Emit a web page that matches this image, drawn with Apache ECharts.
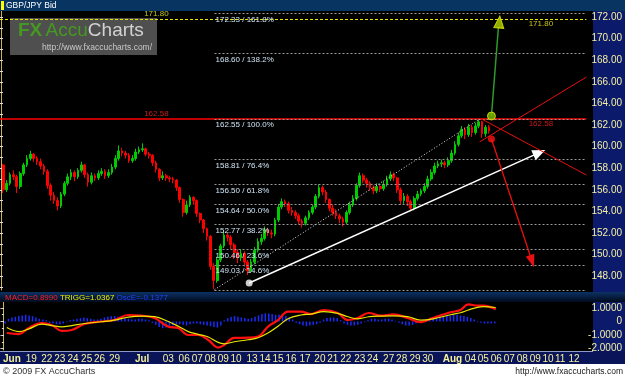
<!DOCTYPE html>
<html>
<head>
<meta charset="utf-8">
<script src="https://cdn.jsdelivr.net/npm/echarts@6/dist/echarts.min.js"></script>
<style>
html, body { margin: 0; padding: 0; background: #fff; }
#chart { width: 625px; height: 379px; }
</style>
</head>
<body>
<div id="chart"></div>
<script>
// GBP/JPY bid, 4 bars per trading day, 17 Jun - 6 Aug 2009
const barsPerDay = 4;
const firstOpen = 158.3;
const closes = [
    156.0, 156.6, 157.4, 157.2,  156.3, 157.5, 158.3, 158.9,  159.3, 158.9, 158.6, 158.2,
    157.7, 156.4, 155.5, 155.0,  154.5, 155.6, 156.6, 157.2,  157.6, 157.2, 157.8, 158.3,
    157.4, 156.7, 157.3, 157.1,  157.5, 157.7, 157.3, 157.6,  158.1, 158.9, 159.6, 159.4,
    159.2, 158.7, 158.9, 159.5,  159.7, 159.8, 159.3, 159.2,  158.5, 157.9, 157.1, 157.3,
    157.1, 157.0, 156.9, 156.2,  155.1, 153.9, 154.6, 155.3,  155.0, 153.8, 153.2, 152.4,
    151.7, 148.9, 147.6, 149.5,  150.8, 151.8, 151.6, 150.9,  150.2, 149.7, 150.1, 149.3,
    148.5, 149.3, 150.4, 151.2,  151.5, 152.3, 152.0, 151.9,  153.2, 154.4, 154.9, 154.7,
    154.1, 153.9, 153.6, 153.1,  152.9, 153.4, 153.9, 154.4,  155.4, 156.2, 155.8, 155.1,
    154.3, 153.9, 153.6, 153.3,  153.0, 153.9, 154.6, 155.2,  156.4, 157.3, 156.9, 156.6,
    156.2, 155.9, 156.3, 156.1,  156.5, 157.0, 157.4, 157.1,  156.0, 155.0, 155.4, 154.9,
    154.3, 155.2, 155.6, 155.9,  156.3, 157.0, 157.6, 158.2,  158.4, 158.5, 158.3, 158.7,
    159.4, 160.2, 161.0, 161.6,  161.1, 161.8, 161.3, 161.9,  162.3, 161.2, 161.8, 161.45
];
const highs = [
    158.4, 156.9, 157.6, 157.8,  157.4, 157.7, 158.5, 159.2,  159.6, 159.4, 159.1, 158.9,
    158.4, 157.9, 156.6, 155.8,  155.3, 155.8, 156.8, 157.5,  157.9, 157.8, 158.0, 158.6,
    158.4, 157.6, 157.6, 157.5,  157.8, 158.0, 157.9, 157.9,  158.4, 159.2, 160.1, 159.9,
    159.6, 159.4, 159.2, 159.8,  160.0, 160.3, 159.9, 159.5,  159.3, 158.7, 158.0, 157.7,
    157.5, 157.3, 157.2, 157.0,  156.3, 155.2, 155.0, 155.5,  155.4, 155.1, 153.9, 153.3,
    152.5, 151.8, 149.2, 149.8,  151.0, 152.2, 152.0, 151.8,  151.1, 150.5, 150.5, 150.3,
    149.5, 149.6, 150.7, 151.5,  151.9, 152.6, 152.5, 152.3,  153.4, 154.7, 155.2, 155.1,
    154.9, 154.4, 154.1, 153.8,  153.3, 153.6, 154.1, 154.6,  155.6, 156.5, 156.4, 156.0,
    155.2, 154.6, 154.2, 153.8,  153.5, 154.1, 154.9, 155.5,  156.6, 157.6, 157.5, 157.1,
    156.8, 156.4, 156.6, 156.5,  156.8, 157.3, 157.7, 157.6,  157.2, 156.2, 155.7, 155.6,
    155.1, 155.4, 155.9, 156.1,  156.6, 157.3, 157.9, 158.5,  158.7, 158.8, 158.7, 159.0,
    159.7, 160.5, 161.3, 161.9,  161.8, 162.1, 162.0, 162.2,  162.55, 162.4, 162.0, 162.0
];
const lows = [
    155.7, 155.8, 156.4, 156.9,  155.7, 156.1, 157.3, 158.1,  158.7, 158.6, 158.3, 157.9,
    157.4, 156.1, 155.0, 154.7,  154.1, 154.3, 155.4, 156.4,  156.9, 156.8, 157.0, 157.6,
    157.1, 156.3, 156.5, 156.8,  156.9, 157.3, 157.0, 157.1,  157.4, 157.9, 158.7, 159.1,
    158.9, 158.5, 158.5, 158.7,  159.3, 159.5, 159.1, 158.9,  158.2, 157.6, 156.8, 156.9,
    156.8, 156.7, 156.6, 155.9,  154.8, 153.5, 153.7, 154.4,  154.6, 153.5, 152.9, 152.0,
    151.3, 148.6, 146.8, 147.4,  149.3, 150.6, 151.2, 150.5,  149.6, 149.2, 149.4, 148.9,
    148.1, 148.3, 149.1, 150.2,  150.9, 151.3, 151.7, 151.5,  151.7, 153.0, 154.2, 154.4,
    153.8, 153.6, 153.3, 152.8,  152.5, 152.7, 153.2, 153.7,  154.2, 155.2, 155.5, 154.8,
    154.0, 153.6, 153.3, 152.9,  152.6, 152.8, 153.7, 154.4,  155.0, 156.2, 156.6, 156.2,
    155.9, 155.6, 155.7, 155.8,  155.9, 156.3, 156.8, 156.8,  155.7, 154.6, 154.7, 154.5,
    154.0, 154.1, 155.0, 155.4,  155.7, 156.1, 156.8, 157.4,  158.0, 158.1, 158.0, 158.1,
    158.5, 159.2, 160.0, 160.8,  160.7, 160.9, 160.9, 161.1,  161.7, 160.8, 160.9, 161.2
];
const oscE = [
    -0.15, 0.2, 0.3, 0.35, 0.4, 0.45, 0.5, 0.45, 0.4, 0.3,
    0.2, 0.15, 0.1, -0.1, -0.15, -0.2, -0.2, -0.15, -0.05,
    0.1, 0.15, 0.2, 0.25, 0.3, 0.25, 0.2, 0.15, 0.15, 0.2,
    0.3, 0.35, 0.4, 0.4, 0.35,
    0.3, 0.25, 0.2, 0.15, 0.15, 0.2, 0.2, 0.15, 0.1,
    -0.1, -0.25, -0.4, -0.5, -0.45, -0.4, -0.3,
    -0.2, -0.2, -0.25, -0.3,
    -0.2, -0.15, -0.15, -0.2, -0.25, -0.3, -0.35, -0.4,
    -0.45, -0.3,
    0.1, 0.25, 0.35, 0.4, 0.35, 0.3, 0.25, 0.2, 0.25,
    0.35, 0.45, 0.55, 0.6, 0.6, 0.55, 0.5, 0.5, 0.45, 0.4, 0.3, 0.15,
    -0.1, -0.2, -0.3, -0.35, -0.3, -0.25, -0.2, -0.1,
    0.15, 0.25, 0.3, 0.3, 0.25, 0.1,
    -0.15, -0.25, -0.3, -0.3, -0.25, -0.15, -0.05,
    0.1, 0.2, 0.2, 0.15, 0.15, 0.2, 0.2, 0.15, 0.05,
    -0.1, -0.2, -0.3, -0.3, -0.25, -0.15, -0.05,
    0.1, 0.2, 0.25, 0.3, 0.35, 0.4, 0.4, 0.45, 0.45, 0.5, 0.5, 0.45, 0.4, 0.35, 0.25, 0.15,
    -0.05, -0.1, -0.15, -0.15, -0.15, -0.14
];

// MACD / trigger, read at these day positions
const macdDays = [0.25, 1.13, 1.86, 2.8, 3.53, 4.26, 4.99, 5.93, 7.17, 8.11, 9.13, 10.08, 11.03, 12.04, 12.77,
    13.5, 14.23, 14.96, 15.68, 16.12, 16.85, 17.87, 18.6, 19.32, 20.05, 20.78, 21.72, 22.45, 23.4, 24.42,
    25.15, 25.87, 26.67, 27.55, 28.49, 29.51, 30.46, 31.4, 32.64, 33.37, 33.95, 34.61, 35.04, 35.95];
const macdVals = [-0.85, -0.93, -0.48, -0.11, -0.26, -0.7, -0.63, -0.19, 0, 0.11, 0.48, 0.43, 0.26, -0.38, -0.48,
    -1.0, -1.0, -1.37, -1.93, -1.74, -1.22, -1.2, -1.12, -0.38, 0.11, 0.73, 0.73, 0.55, 0.85, 0.63,
    0.11, 0.26, 0.63, 0.43, 0.53, 0.26, -0.04, 0.28, 0.68, 0.85, 1.27, 1.17, 1.17, 0.899];
const triggVals = [-0.45, -0.75, -0.55, -0.2, -0.3, -0.4, -0.3, -0.15, -0.02, 0.1, 0.33, 0.4, 0.36, 0.0, -0.35,
    -0.75, -0.95, -1.15, -1.55, -1.65, -1.5, -1.35, -1.2, -0.85, -0.35, 0.2, 0.48, 0.55, 0.73, 0.6,
    0.35, 0.2, 0.35, 0.4, 0.42, 0.36, 0.1, 0.2, 0.5, 0.65, 0.85, 1.05, 1.1, 1.0367];

// date axis
const dateTicks = [0.62, 2.04, 3.17, 4.11, 5.09, 6.08, 7.02, 8.11, 10.13, 12.04, 13.2, 14.16, 15.1, 16.05, 16.99,
    18.16, 19.1, 20.05, 21.0, 22.02, 23.11, 24.05, 25.0, 26.02, 26.96, 28.13, 29.08, 30.05, 30.98, 32.79,
    34.1, 35.04, 35.99, 36.94, 37.88, 38.83, 39.77, 40.65, 41.67];
const dateTexts = ['Jun', '19', '22', '23', '24', '25', '26', '29', 'Jul', '03', '06', '07', '08', '09', '10',
    '13', '14', '15', '16', '17', '20', '21', '22', '23', '24', '27', '28', '29', '30', 'Aug',
    '04', '05', '06', '07', '08', '09', '10', '11', '12'];
const priceTicks = [148, 150, 152, 154, 156, 158, 160, 162, 164, 166, 168, 170, 172];
const macdTicks = [1, 0, -1, -2];

// fibonacci projection from the 8 Jul low
const fibPrices = [172.33, 168.60, 162.55, 158.81, 156.50, 154.64, 152.77, 150.46, 149.03, 146.73];
const fibPcts = ['161.8%', '138.2%', '100.0%', '76.4%', '61.8%', '50.0%', '38.2%', '23.6%', '14.6%', '0.0%'];
const fibStartDay = 15.68;

const keyLevels = [162.58, 171.80];
const keyLabelDays = [11.4, 39.7];
const lastPrice = 161.45;

// trend lines: [startDay, startPrice, endDay, endPrice]
const channelTop = [15.68, 146.75, 35.19, 162.55];
const channelLow = [18.23, 147.37, 39.59, 159.44];
const bullPath = [36.06, 162.83, 36.57, 170.98];
const bearPath = [36.06, 160.70, 39.05, 149.38];
const fanUp = [35.19, 160.43, 43.05, 166.44];
const fanDown = [35.33, 162.56, 43.05, 157.37];
const pivotWhite = [18.23, 147.37];
const pivotGreen = [36.06, 162.83];
const pivotRed = [36.06, 160.70];
const bullHead = [36.64, 171.54];

const X_MIN = -0.109, X_MAX = 43.05;
const FONT = '"Liberation Sans", Arial, sans-serif';
const NARROW = '"Liberation Sans Narrow", "Liberation Sans", Arial, sans-serif';

function init() {
    const chart = echarts.init(document.getElementById('chart'), null, { renderer: 'canvas' });

    const candleData = closes.map((c, i) => {
        const open = i === 0 ? firstOpen : closes[i - 1];
        return [(i + 0.5) / barsPerDay, open, c, lows[i], highs[i]];
    });
    const oscData = oscE.map((v, i) => [(i + 0.5) / barsPerDay, v]);
    const macdData = macdDays.map((d, i) => [d, macdVals[i]]);
    const triggData = macdDays.map((d, i) => [d, triggVals[i]]);

    function seg(p, style, endSymbol, endSize) {
        return [
            { coord: [p[0], p[1]], symbol: 'none', lineStyle: style },
            { coord: [p[2], p[3]], symbol: endSymbol || 'none', symbolSize: endSize || 1, lineStyle: style }
        ];
    }

    const fibLines = fibPrices.map((p, i) => [
        {
            coord: [fibStartDay, p],
            symbol: 'none',
            lineStyle: { color: '#9a9a9a', type: [2, 2], width: 1 },
            label: {
                show: i < fibPrices.length - 1,
                position: 'insideStartBottom',
                formatter: p.toFixed(2) + ' / ' + fibPcts[i],
                color: '#cfe4f4',
                fontSize: 8,
                fontFamily: FONT,
                distance: [1, 2]
            }
        },
        { coord: [X_MAX, p], symbol: 'none' }
    ]);

    const red = { color: '#e81010', width: 1, type: 'solid' };
    const markLines = [
        { yAxis: keyLevels[0], symbol: 'none', lineStyle: { color: '#ff0000', width: 1.5, type: 'solid' } },
        { yAxis: keyLevels[1], symbol: 'none', lineStyle: { color: '#e8e800', width: 1, type: [3, 2] } },
        ...fibLines,
        seg(channelTop, { color: '#e6e6e6', width: 1, type: [1, 2] }),
        seg(channelLow, { color: '#ffffff', width: 1.5, type: 'solid' }, 'triangle', [11, 13]),
        seg(bullPath, { color: '#2f9a2a', width: 1.5, type: 'solid' }),
        seg(bearPath, { color: '#e81010', width: 1.3, type: 'solid' }, 'triangle', [9, 13]),
        seg(fanUp, red),
        seg(fanDown, red),
        {
            yAxis: lastPrice, symbol: 'none',
            lineStyle: { opacity: 0 },
            label: {
                show: true, position: 'end', formatter: lastPrice.toFixed(2),
                backgroundColor: '#ffff00', color: '#000', fontSize: 10, fontFamily: NARROW,
                padding: [1, 1, 0, 1], distance: 1
            }
        }
    ];

    const levelLabelData = [];
    keyLevels.forEach((lv, li) => {
        keyLabelDays.forEach((d, di) => {
            levelLabelData.push({
                value: [d, lv],
                label: {
                    position: di === 0 ? 'top' : 'bottom',
                    distance: 1,
                    color: li === 0 ? '#ff2020' : '#f0f020'
                }
            });
        });
    });

    const markerData = [
        { value: pivotWhite, symbol: 'circle', symbolSize: 7, itemStyle: { color: '#ffffff' } },
        { value: pivotGreen, symbol: 'circle', symbolSize: 8, itemStyle: { color: '#7cc000', borderColor: '#e8e800', borderWidth: 1 } },
        { value: pivotRed, symbol: 'circle', symbolSize: 7, itemStyle: { color: '#ff1010' } },
        { value: bullHead, symbol: 'triangle', symbolSize: [10, 12], symbolRotate: -5, itemStyle: { color: '#b4d800', borderColor: '#f0f000', borderWidth: 1 } }
    ];

    const nLast = macdVals.length - 1;
    const headerText = '{r|MACD=' + macdVals[nLast].toFixed(4) + '} {y|TRIGG=' + triggVals[nLast].toFixed(4) +
        '} {b|OscE=' + (macdVals[nLast] - triggVals[nLast]).toFixed(4) + '}';

    const option = {
        backgroundColor: '#000',
        animation: false,
        textStyle: { fontFamily: FONT },
        grid: [
            { left: 0, right: 32, top: 11, height: 279 },
            { left: 0, right: 32, top: 302, height: 48 }
        ],
        xAxis: [
            { type: 'value', gridIndex: 0, min: X_MIN, max: X_MAX, show: false },
            {
                type: 'value', gridIndex: 1, min: X_MIN, max: X_MAX,
                axisLine: { show: false }, axisTick: { show: false }, splitLine: { show: false },
                axisLabel: {
                    customValues: dateTicks,
                    margin: 4,
                    color: '#f6f29c',
                    fontSize: 10,
                    fontFamily: NARROW,
                    formatter: v => {
                        const i = dateTicks.indexOf(v);
                        const t = i < 0 ? '' : dateTexts[i];
                        return /^[A-Z]/.test(t) ? '{b|' + t + '}' : t;
                    },
                    rich: { b: { fontWeight: 'bold', fontSize: 10, color: '#f6f29c', fontFamily: FONT } }
                }
            }
        ],
        yAxis: [
            {
                type: 'value', gridIndex: 0, position: 'right', min: 146.72, max: 172.556,
                axisLine: { show: true, lineStyle: { color: '#c8b450' } },
                axisTick: { show: true, inside: true, length: 3, lineStyle: { color: '#c0c0c0' },
                    customValues: priceTicks.concat(priceTicks.map(v => v - 1)) },
                splitLine: { show: false },
                axisLabel: {
                    customValues: priceTicks, margin: 5, color: '#f4f0a0', fontSize: 10, fontFamily: NARROW,
                    formatter: v => v.toFixed(2)
                }
            },
            {
                type: 'value', gridIndex: 0, position: 'left', min: 146.72, max: 172.556,
                axisLine: { show: false }, axisLabel: { show: false }, splitLine: { show: false },
                axisTick: { show: true, inside: true, length: 3, lineStyle: { color: '#e0e0e0' },
                    customValues: priceTicks.concat(priceTicks.map(v => v - 1)) }
            },
            {
                type: 'value', gridIndex: 1, position: 'right', min: -2.111, max: 1.444,
                axisLine: { show: true, lineStyle: { color: '#c8b450' } },
                axisTick: { show: true, inside: true, length: 3, lineStyle: { color: '#c0c0c0' }, customValues: macdTicks },
                splitLine: { show: false },
                axisLabel: {
                    customValues: macdTicks, margin: 29, align: 'right', color: '#f4f0a0', fontSize: 10, fontFamily: NARROW,
                    formatter: v => (v === 0 ? '0' : v.toFixed(4))
                }
            },
            {
                type: 'value', gridIndex: 1, position: 'left', min: -2.111, max: 1.444,
                axisLine: { show: false }, axisLabel: { show: false }, splitLine: { show: false },
                axisTick: { show: true, inside: true, length: 2, lineStyle: { color: '#e0e0e0' },
                    customValues: [-2, -1.5, -1, -0.5, 0, 0.5, 1] }
            }
        ],
        series: [
            {
                name: 'GBP/JPY',
                type: 'candlestick',
                xAxisIndex: 0, yAxisIndex: 0,
                encode: { x: 0, y: [1, 2, 3, 4] },
                data: candleData,
                barWidth: 2.2,
                itemStyle: {
                    color: '#00cc00', color0: '#ff0000',
                    borderColor: '#00cc00', borderColor0: '#ff0000', borderWidth: 1
                }
            },
            {
                name: 'levels',
                type: 'scatter',
                xAxisIndex: 0, yAxisIndex: 0,
                symbolSize: 0,
                data: levelLabelData,
                label: {
                    show: true, fontSize: 8, fontFamily: FONT,
                    formatter: p => p.value[1].toFixed(2)
                },
                markLine: {
                    silent: true,
                    animation: false,
                    symbol: ['none', 'none'],
                    label: { show: false },
                    data: markLines
                },
                z: 3
            },
            {
                name: 'markers',
                type: 'scatter',
                xAxisIndex: 0, yAxisIndex: 0,
                data: markerData,
                z: 5
            },
            {
                name: 'OscE',
                type: 'bar',
                xAxisIndex: 1, yAxisIndex: 2,
                data: oscData,
                barWidth: 1.5,
                itemStyle: { color: '#1a2cff' }
            },
            {
                name: 'MACD',
                type: 'line',
                xAxisIndex: 1, yAxisIndex: 2,
                data: macdData,
                smooth: 0.4, symbol: 'none',
                lineStyle: { color: '#ff1010', width: 2.2 }
            },
            {
                name: 'TRIGG',
                type: 'line',
                xAxisIndex: 1, yAxisIndex: 2,
                data: triggData,
                smooth: 0.4, symbol: 'none',
                lineStyle: { color: '#e8e800', width: 1.2 }
            }
        ],
        graphic: [
            // right price panel
            { type: 'rect', z: -1, shape: { x: 593, y: 11, width: 32, height: 281 }, style: { fill: '#0c1a6c' } },
            { type: 'rect', z: -1, shape: { x: 593, y: 302, width: 32, height: 49 }, style: { fill: '#0c1a6c' } },
            // date bar
            { type: 'rect', z: -1, shape: { x: 0, y: 351, width: 625, height: 13 }, style: { fill: '#0a1458' } },
            { type: 'line', z: -1, shape: { x1: 0, y1: 351.5, x2: 593, y2: 351.5 }, style: { stroke: '#8f9cc8', lineWidth: 1 } },
            // title bar
            { type: 'rect', z: 10, shape: { x: 0, y: 0, width: 625, height: 11 }, style: { fill: '#083462' } },
            { type: 'rect', z: 11, shape: { x: 1, y: 1, width: 3, height: 9 }, style: { fill: '#ffff00' } },
            { type: 'text', z: 11, x: 6, y: 6, style: { text: 'GBP/JPY Bid', fill: '#ffffff', font: '8.5px ' + FONT, verticalAlign: 'middle' } },
            // MACD header
            {
                type: 'rect', z: 10, shape: { x: 0, y: 292, width: 625, height: 10 },
                style: { fill: new echarts.graphic.LinearGradient(0, 0, 0, 1, [
                    { offset: 0, color: '#0c3264' }, { offset: 1, color: '#020a1c' }]) }
            },
            {
                type: 'text', z: 11, x: 5, y: 297.5,
                style: {
                    text: headerText, verticalAlign: 'middle', font: '8px ' + FONT,
                    rich: {
                        r: { fill: '#ff2020', fontSize: 8, fontFamily: FONT },
                        y: { fill: '#f0f000', fontSize: 8, fontFamily: FONT },
                        b: { fill: '#2040ff', fontSize: 8, fontFamily: FONT }
                    }
                }
            },
            // watermark logo
            {
                type: 'group', x: 10, y: 18, z: 1,
                children: [
                    { type: 'rect', shape: { x: 0, y: 0, width: 147, height: 37 }, style: { fill: 'rgba(88,88,88,0.9)' } },
                    {
                        type: 'text', x: 8, y: 3,
                        style: {
                            text: '{a|FX} {g|Accu}{c|Charts}',
                            rich: {
                                a: { fill: '#449a20', fontSize: 19, fontWeight: 'bold', fontFamily: FONT },
                                g: { fill: '#449a20', fontSize: 19, fontFamily: FONT },
                                c: { fill: '#d2d2d2', fontSize: 19, fontFamily: FONT }
                            }
                        }
                    },
                    { type: 'text', x: 32, y: 25, style: { text: 'http://www.fxaccucharts.com/', fill: '#c8c8c8', font: '8.5px ' + FONT } }
                ]
            },
            // footer
            { type: 'rect', z: 10, shape: { x: 0, y: 364, width: 625, height: 15 }, style: { fill: '#ffffff' } },
            { type: 'text', z: 11, x: 3, y: 371.5, style: { text: '\u00a9 2009 FX AccuCharts', fill: '#303030', font: '9px ' + FONT, verticalAlign: 'middle' } },
            { type: 'text', z: 11, x: 623, y: 372, style: { text: 'http://www.fxaccucharts.com', fill: '#202020', font: '8.5px ' + FONT, align: 'right', verticalAlign: 'middle' } }
        ]
    };

    chart.setOption(option);
}

init();
</script>
</body>
</html>
